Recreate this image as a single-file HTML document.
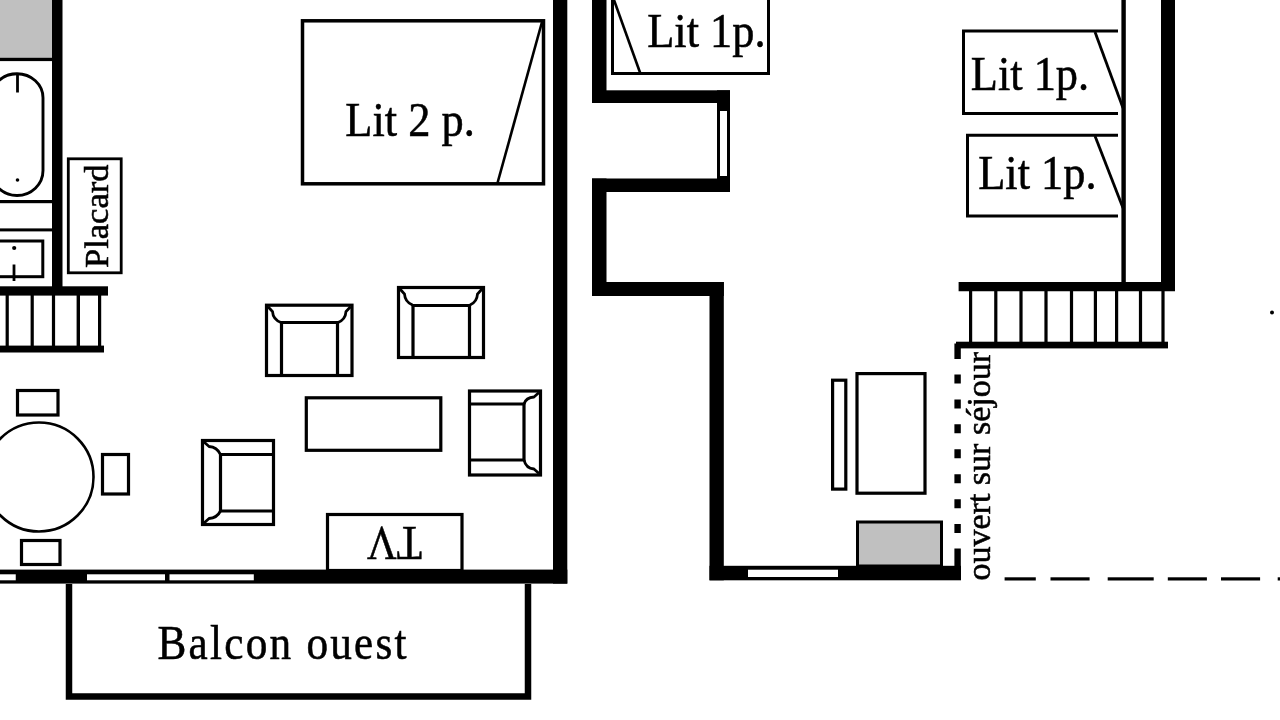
<!DOCTYPE html>
<html><head><meta charset="utf-8">
<style>
html,body{margin:0;padding:0;background:#fff;width:1280px;height:720px;overflow:hidden}
svg{display:block;filter:blur(0.5px)}
text{font-family:"Liberation Serif",serif;fill:#000}
.t{stroke:#000;stroke-width:0.55}
</style></head>
<body>
<svg width="1280" height="720" viewBox="0 0 1280 720">
<rect x="0" y="0" width="1280" height="720" fill="#fff"/>
<!-- ===== LEFT APARTMENT ===== -->
<!-- bathroom grey -->
<rect x="0" y="0" width="53" height="58" fill="#c0c0c0"/>
<rect x="0" y="57.8" width="53" height="3.3" fill="#000"/>
<!-- bath -->
<path d="M-9 97.7 A26 24 0 0 1 43 97.7 V170.5 A26 25 0 0 1 -9 170.5 Z" fill="none" stroke="#000" stroke-width="2.9"/>
<line x1="17.5" y1="73" x2="17.5" y2="92.5" stroke="#000" stroke-width="2.8"/>
<circle cx="17.5" cy="180" r="1.8" fill="#000"/>
<rect x="0" y="200" width="53" height="3.2" fill="#000"/>
<rect x="0" y="228.4" width="53" height="3" fill="#000"/>
<!-- sink box -->
<rect x="-3" y="241" width="45.8" height="35.7" fill="none" stroke="#000" stroke-width="3"/>
<circle cx="14.2" cy="248" r="2.1" fill="#000"/>
<line x1="14" y1="264.5" x2="14" y2="281" stroke="#000" stroke-width="2.8"/>
<!-- left wall -->
<rect x="52" y="0" width="10.5" height="292" fill="#000"/>
<!-- placard -->
<rect x="68.3" y="158.8" width="52.9" height="114" fill="none" stroke="#000" stroke-width="2.8"/>
<text class="t" transform="translate(108.3,268) rotate(-90)" font-size="34.5">Placard</text>
<!-- stair left -->
<rect x="0" y="286.3" width="108" height="9.3" fill="#000"/>
<rect x="0" y="345.6" width="104" height="6.9" fill="#000"/>
<rect x="5.6" y="295" width="3.2" height="51" fill="#000"/>
<rect x="30.6" y="295" width="3.2" height="51" fill="#000"/>
<rect x="51.9" y="295" width="3.2" height="51" fill="#000"/>
<rect x="76.6" y="295" width="3.4" height="51" fill="#000"/>
<rect x="98" y="295" width="3.2" height="51" fill="#000"/>
<!-- bed 2p -->
<rect x="302.5" y="20.8" width="241" height="163" fill="none" stroke="#000" stroke-width="3.5"/>
<line x1="542" y1="22" x2="497.5" y2="183" stroke="#000" stroke-width="2.6"/>
<text class="t" transform="translate(345.3,136.3) scale(0.925,1)" font-size="48">Lit 2 p.</text>
<!-- right wall of left apt -->
<rect x="553" y="0" width="14.3" height="583.6" fill="#000"/>
<!-- bottom wall -->
<rect x="0" y="569.6" width="567.3" height="14" fill="#000"/>
<rect x="0" y="574.3" width="15.75" height="6" fill="#fff"/>
<rect x="87" y="574.3" width="78" height="6" fill="#fff"/>
<rect x="169.5" y="574.3" width="84.3" height="6" fill="#fff"/>
<!-- armchairs -->
<g fill="none" stroke="#000" stroke-width="3.2">
  <!-- A1 back top -->
  <rect x="266.5" y="305.2" width="85.5" height="70.3"/>
  <path d="M281.5 375.5 V322.5 H337.5 V375.5"/>
  <path d="M268 306.7 L272.5 311.5 Q273 319.5 281 322.5 M350.5 306.7 L346 311.5 Q345.5 319.5 338 322.5" stroke-width="2.8"/>
  <!-- A2 back top -->
  <rect x="398.5" y="287.5" width="85" height="70"/>
  <path d="M413 357.5 V305.5 H469.5 V357.5"/>
  <path d="M400 289 L404.5 294 Q405 302 412.5 305 M482 289 L477.5 294 Q477 302 470 305" stroke-width="2.8"/>
  <!-- coffee table -->
  <rect x="306.3" y="397.8" width="134.5" height="52.5"/>
  <!-- A3 back right -->
  <rect x="469.5" y="391" width="71" height="84"/>
  <path d="M469.5 404 H524 V460 H469.5"/>
  <path d="M539 392.5 L534 397 Q526 397.5 524 404 M539 473.5 L534 469 Q526 468.5 524 460" stroke-width="2.8"/>
  <!-- A4 back left -->
  <rect x="202.5" y="440.5" width="71" height="84"/>
  <path d="M273.5 454.5 H220.5 V511 H273.5"/>
  <path d="M204 442 L209 446.5 Q217 447 220.5 454.5 M204 523 L209 518.5 Q217 518 220.5 511" stroke-width="2.8"/>
  <!-- dining -->
  <rect x="17.5" y="390.5" width="40.5" height="24.5"/>
  <rect x="102.5" y="454.5" width="26" height="39.5"/>
  <rect x="21.5" y="540.5" width="38.5" height="24"/>
  <circle cx="39" cy="477" r="54.5" stroke-width="2.6"/>
  <!-- TV -->
  <rect x="327.5" y="514.5" width="134.5" height="56"/>
</g>
<text class="t" transform="translate(394.5,526.6) rotate(180) scale(0.86,1)" font-size="48" text-anchor="middle">TV</text>
<!-- balcony -->
<path d="M69 584 V696.5 H528 V584" fill="none" stroke="#000" stroke-width="6.5"/>
<text class="t" transform="translate(157.5,658.7) scale(0.9,1)" font-size="48" letter-spacing="2.5">Balcon ouest</text>

<!-- ===== MIDDLE ===== -->
<rect x="592" y="0" width="14.5" height="103" fill="#000"/>
<rect x="592" y="90.3" width="138" height="12.7" fill="#000"/>
<rect x="717" y="90.3" width="13" height="101.7" fill="#000"/>
<rect x="720" y="111" width="7" height="65" fill="#fff"/>
<rect x="592" y="178.5" width="138" height="13.5" fill="#000"/>
<rect x="592" y="178.5" width="14.5" height="117.5" fill="#000"/>
<rect x="592" y="282" width="131.8" height="14" fill="#000"/>
<rect x="709.5" y="282" width="14.3" height="298.3" fill="#000"/>
<rect x="709.5" y="565.8" width="251.5" height="14.5" fill="#000"/>
<rect x="748" y="569.7" width="90" height="7.3" fill="#fff"/>
<!-- bed 1p top -->
<rect x="612.5" y="-5" width="156" height="78.5" fill="none" stroke="#000" stroke-width="3"/>
<line x1="614" y1="0" x2="640" y2="72.5" stroke="#000" stroke-width="2.6"/>
<text class="t" transform="translate(647.2,47.1) scale(0.925,1)" font-size="48">Lit 1p.</text>
<!-- desk etc -->
<g fill="none" stroke="#000" stroke-width="3.2">
  <rect x="832.6" y="380.2" width="13.2" height="108.9"/>
  <rect x="857" y="373.6" width="68" height="119.6"/>
</g>
<rect x="857.5" y="522" width="84" height="44" fill="#c0c0c0" stroke="#000" stroke-width="3"/>
<!-- dotted opening -->
<line x1="957.6" y1="374.5" x2="957.6" y2="548" stroke="#000" stroke-width="6.4" stroke-dasharray="9 15.93"/>
<rect x="954.4" y="343.5" width="6.4" height="15.5" fill="#000"/>
<rect x="954.4" y="548.5" width="6.4" height="20" fill="#000"/>
<text class="t" transform="translate(989.5,580.5) rotate(-90)" font-size="34">ouvert sur séjour</text>
<g fill="#000"><rect x="1004.6" y="577.3" width="31.2" height="3.2"/><rect x="1050.5" y="577.3" width="39.1" height="3.2"/><rect x="1107.7" y="577.3" width="46.0" height="3.2"/><rect x="1167.8" y="577.3" width="39.1" height="3.2"/><rect x="1221.0" y="577.3" width="39.1" height="3.2"/><rect x="1277.7" y="577.3" width="3.3" height="3.2"/></g>

<!-- ===== RIGHT ===== -->
<g fill="none" stroke="#000" stroke-width="3">
  <path d="M1118 31 H963.5 V113.5 H1118"/>
  <path d="M1118 135.2 H967.5 V216 H1118"/>
</g>
<line x1="1095" y1="32" x2="1123" y2="108" stroke="#000" stroke-width="2.8"/>
<line x1="1095" y1="136" x2="1123" y2="208" stroke="#000" stroke-width="2.8"/>
<text class="t" transform="translate(970.8,89.8) scale(0.925,1)" font-size="48">Lit 1p.</text>
<text class="t" transform="translate(978.2,189.3) scale(0.925,1)" font-size="48">Lit 1p.</text>
<rect x="1121.4" y="0" width="4.4" height="284" fill="#000"/>
<rect x="1161" y="0" width="14" height="291" fill="#000"/>
<rect x="958.6" y="282" width="216.4" height="9.25" fill="#000"/>
<rect x="956" y="341.7" width="212" height="6.7" fill="#000"/>
<g fill="#000">
  <rect x="969.0" y="291" width="3.2" height="51"/>
  <rect x="994.2" y="291" width="3.2" height="51"/>
  <rect x="1019.4" y="291" width="3.2" height="51"/>
  <rect x="1044.4" y="291" width="3.2" height="51"/>
  <rect x="1069.9" y="291" width="3.2" height="51"/>
  <rect x="1093.8" y="291" width="3.2" height="51"/>
  <rect x="1115.0" y="291" width="3.2" height="51"/>
  <rect x="1138.9" y="291" width="3.2" height="51"/>
  <rect x="1161.4" y="291" width="3.2" height="51"/>
</g>
<circle cx="1272" cy="312.5" r="2" fill="#000"/>
</svg>
</body></html>
